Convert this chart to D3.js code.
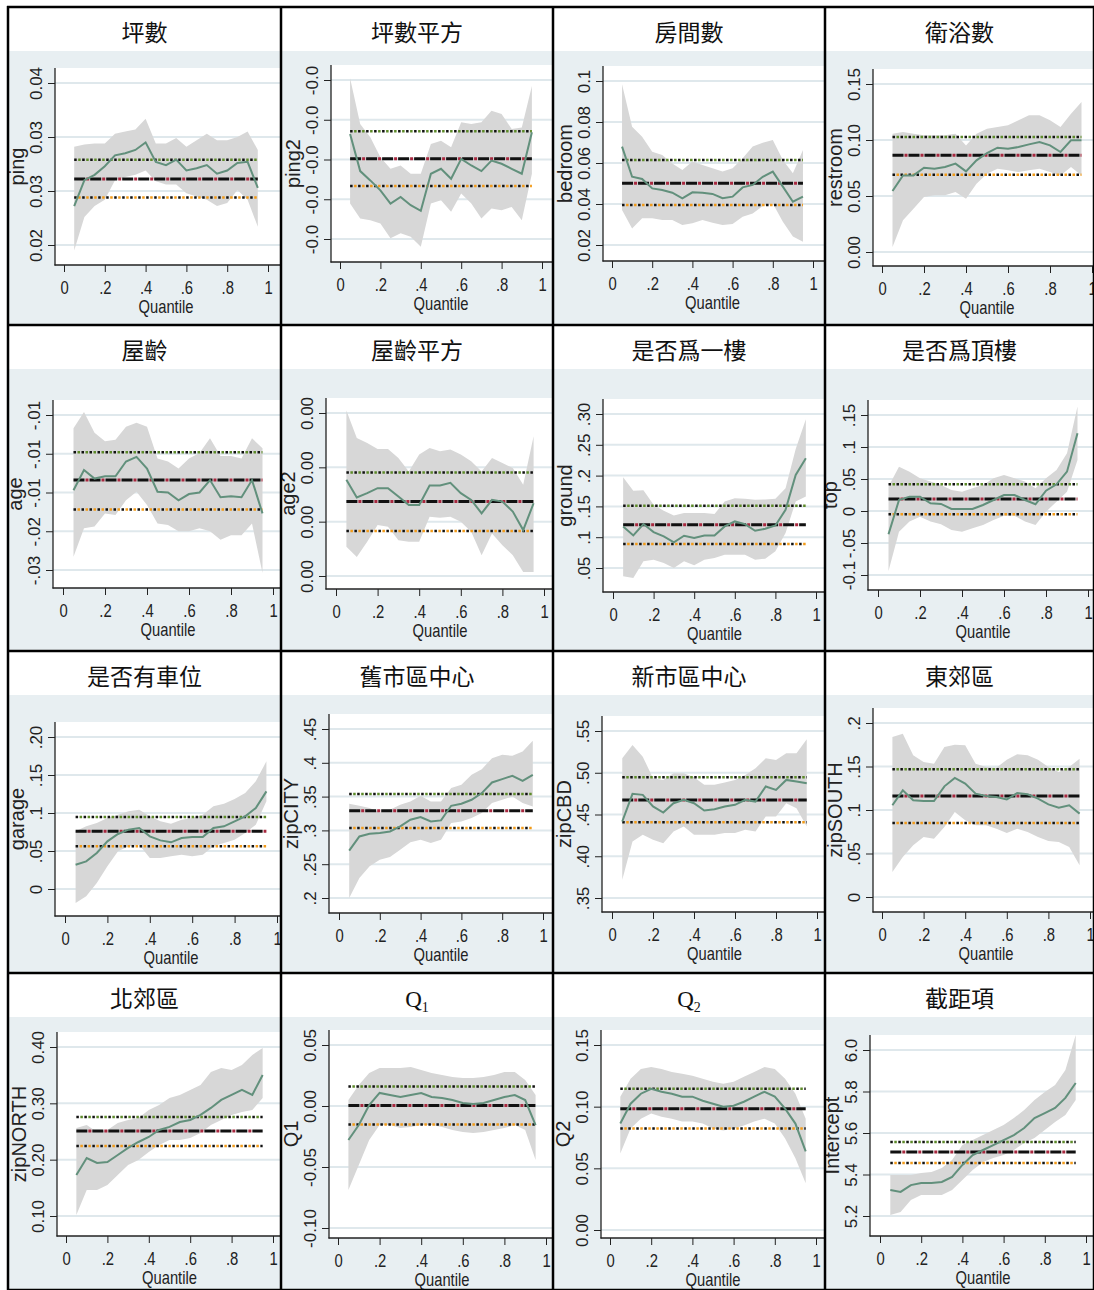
<!DOCTYPE html>
<html>
<head>
<meta charset="utf-8">
<script src="https://cdn.jsdelivr.net/npm/d3@7"></script>
<style>
  body { margin: 0; background: #fff; }
</style>
</head>
<body>
<svg id="grafico" width="1094" height="1290"></svg>
<script>
// quantis estimados (0.05 ... 0.95)
const quantiles = [0.05,0.10,0.15,0.20,0.25,0.30,0.35,0.40,0.45,0.50,0.55,0.60,0.65,0.70,0.75,0.80,0.85,0.90,0.95];
const xTicks = [0, 0.2, 0.4, 0.6, 0.8, 1];
const xTickLabels = ["0", ".2", ".4", ".6", ".8", "1"];

const titles = ["坪數","坪數平方","房間數","衛浴數","屋齡","屋齡平方","是否爲一樓","是否爲頂樓",
                "是否有車位","舊市區中心","新市區中心","東郊區","北郊區","Q1","Q2","截距項"];
const yNames = ["ping","ping2","bedroom","restroom","age","age2","ground","top",
                "garage","zipCITY","zipCBD","zipSOUTH","zipNORTH","Q1","Q2","Intercept"];

// eixo Y: valores e rótulos como aparecem no gráfico
const yTickValues = [
  [0.020,0.025,0.030,0.035],
  [-2.5e-4,-2e-4,-1.5e-4,-1e-4,-0.5e-4],
  [0.02,0.04,0.06,0.08,0.10],
  [0,0.05,0.10,0.15],
  [-0.025,-0.020,-0.015,-0.010,-0.005],
  [0,1e-4,2e-4,3e-4],
  [0.05,0.10,0.15,0.20,0.25,0.30],
  [-0.10,-0.05,0,0.05,0.10,0.15],
  [0,0.05,0.10,0.15,0.20],
  [0.20,0.25,0.30,0.35,0.40,0.45],
  [0.35,0.40,0.45,0.50,0.55],
  [0,0.05,0.10,0.15,0.20],
  [0.10,0.20,0.30,0.40],
  [-0.10,-0.05,0,0.05],
  [0,0.05,0.10,0.15],
  [5.2,5.4,5.6,5.8,6.0]
];
const yTickLabels = [
  ["0.02","0.03","0.03","0.04"],
  ["-0.0","-0.0","-0.0","-0.0","-0.0"],
  ["0.02","0.04","0.06","0.08","0.1"],
  ["0.00","0.05","0.10","0.15"],
  ["-.03","-.02","-.01","-.01","-.01"],
  ["0.00","0.00","0.00","0.00"],
  [".05",".1",".15",".2",".25",".30"],
  ["-0.1","-.05","0",".05",".1",".15"],
  ["0",".05",".1",".15",".20"],
  [".2",".25",".3",".35",".4",".45"],
  [".35",".40",".45",".50",".55"],
  ["0",".05",".1",".15",".2"],
  ["0.10","0.20","0.30","0.40"],
  ["-0.10","-0.05","0.00","0.05"],
  ["0.00","0.05","0.10","0.15"],
  ["5.2","5.4","5.6","5.8","6.0"]
];

// coeficientes por quantil (q), banda de confiança (lo/hi) e OLS [coef, li, ls]
const ping_q  = [.0236,.0260,.0265,.0273,.0283,.0285,.0288,.0295,.0277,.0274,.0279,.0269,.0271,.0274,.0266,.0269,.0276,.0277,.0253];
const ping_lo = [.0195,.0226,.0236,.0242,.0260,.0263,.0265,.0269,.0259,.0256,.0256,.0248,.0245,.0242,.0236,.0239,.0251,.0242,.0217];
const ping_hi = [.0291,.0293,.0294,.0294,.0303,.0305,.0307,.0317,.0294,.0294,.0299,.0291,.0297,.0303,.0297,.0297,.0300,.0305,.0288];
const ping_ols = [.0261,.0244,.0279];

const ping2_q  = [-1.179e-4,-1.646e-4,-1.763e-4,-1.888e-4,-2.054e-4,-1.971e-4,-2.075e-4,-2.146e-4,-1.679e-4,-1.617e-4,-1.742e-4,-1.492e-4,-1.575e-4,-1.646e-4,-1.513e-4,-1.554e-4,-1.617e-4,-1.679e-4,-1.158e-4];
const ping2_lo = [-2.054e-4,-2.242e-4,-2.263e-4,-2.304e-4,-2.492e-4,-2.429e-4,-2.471e-4,-2.596e-4,-2.054e-4,-2.013e-4,-2.158e-4,-1.929e-4,-2.054e-4,-2.242e-4,-2.117e-4,-2.138e-4,-2.096e-4,-2.263e-4,-1.679e-4];
const ping2_hi = [-0.479e-4,-1.054e-4,-1.221e-4,-1.471e-4,-1.617e-4,-1.575e-4,-1.679e-4,-1.679e-4,-1.304e-4,-1.263e-4,-1.346e-4,-1.033e-4,-1.054e-4,-1.033e-4,-0.888e-4,-0.929e-4,-1.117e-4,-1.096e-4,-0.575e-4];
const ping2_ols = [-1.492e-4,-1.833e-4,-1.146e-4];

const bedroom_q  = [.0680,.0533,.0522,.0476,.0468,.0455,.0428,.0457,.0455,.0449,.0428,.0436,.0481,.0493,.0533,.0558,.0485,.0411,.0436];
const bedroom_lo = [.0371,.0281,.0330,.0330,.0322,.0322,.0298,.0306,.0322,.0309,.0298,.0302,.0338,.0354,.0390,.0403,.0314,.0241,.0216];
const bedroom_hi = [.0984,.0777,.0728,.0655,.0639,.0598,.0566,.0607,.0590,.0574,.0558,.0574,.0623,.0680,.0699,.0712,.0615,.0550,.0663];
const bedroom_ols = [.0501,.0395,.0615];

const restroom_q  = [.0545,.0684,.0684,.0753,.0744,.0759,.0789,.0720,.0818,.0884,.0931,.0923,.0937,.0961,.0982,.0952,.0893,.0997,.0997];
const restroom_lo = [.0045,.0283,.0387,.0491,.0506,.0506,.0536,.0476,.0610,.0699,.0744,.0729,.0714,.0729,.0744,.0714,.0684,.0759,.0684];
const restroom_hi = [.1056,.1071,.1056,.1042,.1042,.1042,.1056,.0952,.1056,.1101,.1116,.1131,.1176,.1220,.1220,.1176,.1116,.1235,.1339];
const restroom_ols = [.0863,.0690,.1027];

const age_q  = [-.0147,-.0121,-.0132,-.0129,-.0129,-.0110,-.0104,-.0119,-.0149,-.0150,-.0160,-.0152,-.0150,-.0134,-.0156,-.0155,-.0156,-.0134,-.0177];
const age_lo = [-.0233,-.0196,-.0194,-.0177,-.0179,-.0160,-.0149,-.0166,-.0190,-.0192,-.0200,-.0200,-.0196,-.0200,-.0211,-.0205,-.0205,-.0190,-.0254];
const age_hi = [-.0067,-.0046,-.0073,-.0084,-.0082,-.0065,-.0060,-.0065,-.0106,-.0110,-.0119,-.0106,-.0099,-.0080,-.0103,-.0103,-.0106,-.0080,-.0093];
const age_ols = [-.0134,-.0172,-.0098];

const age2_q  = [1.771e-4,1.444e-4,1.524e-4,1.617e-4,1.617e-4,1.462e-4,1.308e-4,1.308e-4,1.666e-4,1.666e-4,1.715e-4,1.524e-4,1.401e-4,1.154e-4,1.401e-4,1.370e-4,1.185e-4,0.845e-4,1.339e-4];
const age2_lo = [0.537e-4,0.352e-4,0.629e-4,0.938e-4,0.907e-4,0.660e-4,0.629e-4,0.629e-4,1.092e-4,1.074e-4,1.092e-4,1.000e-4,0.814e-4,0.383e-4,0.784e-4,0.568e-4,0.383e-4,0.074e-4,0.074e-4];
const age2_hi = [3.048e-4,2.542e-4,2.449e-4,2.338e-4,2.338e-4,2.172e-4,1.925e-4,2.234e-4,2.357e-4,2.295e-4,2.326e-4,2.234e-4,2.110e-4,1.925e-4,2.172e-4,2.079e-4,1.987e-4,1.678e-4,2.573e-4];
const age2_ols = [1.370e-4,0.827e-4,1.907e-4];

const ground_q  = [.1175,.1029,.1213,.1083,.1013,.0916,.1024,.0986,.1029,.1029,.1175,.1256,.1213,.1105,.1137,.1191,.1445,.2012,.2282];
const ground_lo = [.0365,.0338,.0608,.0635,.0581,.0500,.0608,.0543,.0635,.0662,.0716,.0716,.0716,.0635,.0651,.0770,.1067,.1580,.1661];
const ground_hi = [.1974,.1753,.1764,.1526,.1429,.1353,.1391,.1391,.1391,.1375,.1580,.1634,.1623,.1607,.1612,.1623,.1796,.2433,.2914];
const ground_ols = [.1202,.0889,.1510];

const top_q  = [-.0364,.0172,.0224,.0224,.0120,.0110,.0032,.0032,.0032,.0094,.0172,.0250,.0250,.0172,.0105,.0318,.0417,.0615,.1214];
const top_lo = [-.0938,-.0323,-.0166,-.0088,-.0166,-.0208,-.0297,-.0323,-.0271,-.0218,-.0140,-.0073,-.0073,-.0166,-.0218,-.0010,.0146,.0302,.0797];
const top_hi = [.0381,.0693,.0615,.0511,.0459,.0407,.0329,.0302,.0355,.0407,.0511,.0563,.0511,.0459,.0355,.0511,.0641,.0902,.1631];
const top_ols = [.0188,-.0052,.0417];

const garage_q  = [.0320,.0364,.0474,.0627,.0724,.0781,.0803,.0693,.0640,.0614,.0671,.0684,.0684,.0803,.0825,.0890,.0956,.1066,.1285];
const garage_lo = [-.0184,-.0096,.0079,.0298,.0496,.0561,.0583,.0408,.0408,.0430,.0452,.0430,.0452,.0561,.0605,.0649,.0737,.0846,.1154];
const garage_hi = [.0759,.0825,.0868,.0934,.0978,.1022,.1044,.0956,.0890,.0860,.0912,.0934,.0978,.1088,.1123,.1184,.1263,.1417,.1680];
const garage_ols = [.0759,.0561,.0947];

const zipCITY_q  = [.2700,.2911,.2951,.2961,.2985,.3059,.3158,.3197,.3133,.3148,.3364,.3394,.3453,.3552,.3709,.3759,.3808,.3734,.3823];
const zipCITY_lo = [.2000,.2296,.2468,.2567,.2606,.2714,.2823,.2862,.2813,.2862,.3108,.3133,.3182,.3256,.3404,.3453,.3502,.3404,.3355];
const zipCITY_hi = [.3394,.3364,.3330,.3266,.3305,.3379,.3429,.3512,.3429,.3429,.3626,.3675,.3823,.3906,.4069,.4118,.4103,.4167,.4325];
const zipCITY_ols = [.3291,.3034,.3537];

const zipCBD_q  = [.4416,.4747,.4735,.4596,.4524,.4635,.4675,.4635,.4548,.4564,.4596,.4616,.4675,.4655,.4835,.4795,.4914,.4894,.4874];
const zipCBD_lo = [.3719,.4177,.4257,.4197,.4157,.4297,.4357,.4257,.4257,.4257,.4277,.4277,.4317,.4297,.4476,.4476,.4635,.4576,.4357];
const zipCBD_hi = [.5173,.5333,.5193,.4934,.4914,.4994,.4994,.4946,.4855,.4855,.4882,.4914,.4974,.5054,.5173,.5153,.5233,.5233,.5400];
const zipCBD_ols = [.4675,.4408,.4946];

const zipSOUTH_q  = [.1054,.1226,.1111,.1103,.1103,.1272,.1368,.1303,.1188,.1161,.1149,.1122,.1195,.1180,.1130,.1065,.1027,.1054,.0958];
const zipSOUTH_lo = [.0287,.0460,.0594,.0690,.0670,.0805,.0977,.0881,.0824,.0824,.0785,.0736,.0785,.0747,.0690,.0644,.0632,.0575,.0364];
const zipSOUTH_hi = [.1839,.1877,.1628,.1552,.1532,.1724,.1751,.1743,.1532,.1494,.1486,.1578,.1640,.1628,.1578,.1494,.1437,.1494,.1590];
const zipSOUTH_ols = [.1161,.0851,.1467];

const zipNORTH_q  = [.1728,.2030,.1941,.1959,.2083,.2208,.2314,.2403,.2527,.2581,.2669,.2705,.2794,.2918,.3060,.3149,.3238,.3150,.3504];
const zipNORTH_lo = [.1018,.1462,.1462,.1551,.1728,.1906,.1995,.2137,.2261,.2350,.2350,.2385,.2474,.2616,.2705,.2794,.2847,.2883,.3096];
const zipNORTH_hi = [.2563,.2616,.2492,.2527,.2652,.2705,.2740,.2883,.2971,.3096,.3149,.3238,.3327,.3557,.3628,.3593,.3682,.3859,.3984];
const zipNORTH_ols = [.2510,.2243,.2758];

const q1_q  = [-.0279,-.0156,.0008,.0107,.0090,.0074,.0090,.0107,.0074,.0066,.0049,.0025,.0016,.0025,.0049,.0074,.0090,.0049,-.0156];
const q1_lo = [-.0689,-.0484,-.0279,-.0156,-.0156,-.0180,-.0172,-.0156,-.0156,-.0172,-.0197,-.0213,-.0221,-.0213,-.0197,-.0180,-.0156,-.0197,-.0443];
const q1_hi = [.0049,.0172,.0271,.0312,.0312,.0312,.0320,.0295,.0271,.0254,.0238,.0230,.0230,.0238,.0254,.0279,.0279,.0213,.0090];
const q1_ols = [.0005,-.0152,.0160];

const q2_q  = [.0863,.1024,.1105,.1145,.1121,.1105,.1081,.1081,.1048,.1024,.1000,.1008,.1040,.1081,.1121,.1081,.0984,.0863,.0637];
const q2_lo = [.0621,.0823,.0903,.0944,.0919,.0903,.0879,.0879,.0863,.0823,.0807,.0823,.0847,.0879,.0903,.0863,.0742,.0581,.0379];
const q2_hi = [.1081,.1226,.1306,.1322,.1306,.1282,.1266,.1250,.1226,.1202,.1185,.1202,.1242,.1282,.1322,.1306,.1226,.1105,.0903];
const q2_ols = [.0984,.0823,.1145];

const cons_q  = [5.325,5.316,5.349,5.359,5.359,5.364,5.388,5.446,5.494,5.518,5.542,5.566,5.590,5.624,5.672,5.696,5.721,5.769,5.841];
const cons_lo = [5.205,5.219,5.277,5.301,5.301,5.301,5.325,5.374,5.422,5.460,5.480,5.494,5.518,5.552,5.576,5.615,5.653,5.687,5.759];
const cons_hi = [5.398,5.398,5.398,5.407,5.412,5.431,5.470,5.542,5.566,5.590,5.615,5.639,5.672,5.711,5.759,5.798,5.831,5.904,6.072];
const cons_ols = [5.508,5.455,5.557];

const series = [
  [ping_q, ping_lo, ping_hi, ping_ols],
  [ping2_q, ping2_lo, ping2_hi, ping2_ols],
  [bedroom_q, bedroom_lo, bedroom_hi, bedroom_ols],
  [restroom_q, restroom_lo, restroom_hi, restroom_ols],
  [age_q, age_lo, age_hi, age_ols],
  [age2_q, age2_lo, age2_hi, age2_ols],
  [ground_q, ground_lo, ground_hi, ground_ols],
  [top_q, top_lo, top_hi, top_ols],
  [garage_q, garage_lo, garage_hi, garage_ols],
  [zipCITY_q, zipCITY_lo, zipCITY_hi, zipCITY_ols],
  [zipCBD_q, zipCBD_lo, zipCBD_hi, zipCBD_ols],
  [zipSOUTH_q, zipSOUTH_lo, zipSOUTH_hi, zipSOUTH_ols],
  [zipNORTH_q, zipNORTH_lo, zipNORTH_hi, zipNORTH_ols],
  [q1_q, q1_lo, q1_hi, q1_ols],
  [q2_q, q2_lo, q2_hi, q2_ols],
  [cons_q, cons_lo, cons_hi, cons_ols]
];

// posição de cada quadro: eixoY x, x(0), x(1), y(primeiro tick), y(último tick), eixoX y
const layout = [
  [55, 64, 268, 245, 83, 265],   [331, 340, 542, 239, 80, 262],   [603, 612, 813, 245, 81, 261],   [873, 882, 1092, 252, 84, 266],
  [53, 63, 273, 570, 415, 588],  [326, 336, 544, 576, 413, 589],  [603, 613, 816, 568, 414, 592],  [868, 878, 1088, 575, 415, 590],
  [55, 65, 277, 889, 737, 916],  [329, 339, 543, 898, 729, 913],  [602, 612, 817, 898, 731, 912],  [873, 882, 1090, 897, 723, 912],
  [57, 66, 273, 1216, 1047, 1236],[329, 338, 546, 1228, 1045, 1238],[601, 610, 816, 1230, 1045, 1238],[870, 880, 1086, 1216, 1050, 1236]
];
const colEdges = [8, 281, 553, 825, 1094];
const rowEdges = [7, 325, 651, 973, 1290];

const cores = {
  fundo: "#e8eff2", grade: "#dfe8ec", banda: "#d7d7d7", linha: "#62907c",
  ols: "#a8283f", superior: "#5d8a28", inferior: "#f29a17"
};
const fonteTexto = "'Liberation Sans', Arial, sans-serif";
const estreito = 0.78; // números do eixo X são estreitos no original

const svg = d3.select("#grafico");
const defs = svg.append("defs");

titles.forEach(function(titulo, i) {
  const c = i % 4, r = Math.floor(i / 4);
  const cx = colEdges[c], cy = rowEdges[r];
  const cw = colEdges[c + 1] - cx, ch = rowEdges[r + 1] - cy;
  const [axX, x0, x1, yBot, yTop, axY] = layout[i];
  const [est, lo, hi, ols] = series[i];
  const ticks = yTickValues[i], labels = yTickLabels[i];
  const plotTop = yTop - 15;

  defs.append("clipPath").attr("id", "clip" + i)
    .append("rect").attr("x", cx).attr("y", cy).attr("width", cw).attr("height", ch);

  const g = svg.append("g").attr("clip-path", "url(#clip" + i + ")");

  g.append("rect").attr("x", cx).attr("y", cy).attr("width", cw).attr("height", ch).attr("fill", "#fff");
  g.append("rect").attr("x", cx).attr("y", cy + 44).attr("width", cw).attr("height", ch - 44).attr("fill", cores.fundo);
  g.append("rect").attr("x", axX).attr("y", plotTop).attr("width", cx + cw - axX).attr("height", axY - plotTop).attr("fill", "#fff");

  const x = d3.scaleLinear().domain([0, 1]).range([x0, x1]);
  const y = d3.scaleLinear().domain([ticks[0], ticks[ticks.length - 1]]).range([yBot, yTop]);

  // linhas de grade
  g.selectAll(".grade").data(ticks).enter().append("line")
    .attr("x1", axX).attr("x2", cx + cw)
    .attr("y1", d => y(d)).attr("y2", d => y(d))
    .attr("stroke", cores.grade).attr("stroke-width", 2);

  // banda de confiança dos quantis
  const area = d3.area()
    .x((d, k) => x(quantiles[k]))
    .y0((d, k) => y(lo[k]))
    .y1((d, k) => y(hi[k]));
  g.append("path").datum(est).attr("d", area).attr("fill", cores.banda);

  // OLS: coeficiente e intervalo
  const xa = x(quantiles[0]), xb = x(quantiles[quantiles.length - 1]);
  const hline = function(v, cor, dash, off, w) {
    g.append("line").attr("x1", xa).attr("x2", xb).attr("y1", y(v)).attr("y2", y(v))
      .attr("stroke", cor).attr("stroke-width", w)
      .attr("stroke-dasharray", dash).attr("stroke-dashoffset", off);
  };
  hline(ols[2], cores.superior, "2.5,5.5", -4, 2.5);
  hline(ols[2], "#111", "2.5,5.5", 0, 2.5);
  hline(ols[1], cores.inferior, "2.5,5.5", -4, 2.5);
  hline(ols[1], "#111", "2.5,5.5", 0, 2.5);
  hline(ols[0], cores.ols, "3,13", -12, 3);
  hline(ols[0], "#111", "11,5", 0, 3);

  // linha dos coeficientes por quantil
  const linha = d3.line()
    .x((d, k) => x(quantiles[k]))
    .y(d => y(d));
  g.append("path").datum(est).attr("d", linha)
    .attr("fill", "none").attr("stroke", cores.linha).attr("stroke-width", 2);

  // eixo Y
  const yAxis = d3.axisLeft(y).tickValues(ticks).tickFormat((d, k) => labels[k]).tickSize(7).tickSizeOuter(0);
  const gy = g.append("g").attr("transform", "translate(" + axX + ",0)").call(yAxis);
  gy.select(".domain").remove();
  gy.selectAll(".tick line").attr("stroke", "#222");
  gy.selectAll(".tick text")
    .attr("x", null).attr("dy", null)
    .attr("transform", "translate(-13,0) rotate(-90)")
    .attr("text-anchor", "middle")
    .style("font-family", fonteTexto).style("font-size", "17px").attr("fill", "#222");
  g.append("line").attr("x1", axX).attr("x2", axX).attr("y1", plotTop).attr("y2", axY + 0.5)
    .attr("stroke", "#222").attr("stroke-width", 1.3);

  // eixo X
  const xAxis = d3.axisBottom(x).tickValues(xTicks).tickFormat((d, k) => xTickLabels[k]).tickSize(7).tickSizeOuter(0);
  const gx = g.append("g").attr("transform", "translate(0," + axY + ")").call(xAxis);
  gx.select(".domain").remove();
  gx.selectAll(".tick line").attr("stroke", "#222");
  gx.selectAll(".tick text").attr("y", null).attr("dy", null)
    .attr("transform", "translate(0,29) scale(" + estreito + ",1)")
    .style("font-family", fonteTexto).style("font-size", "19px").attr("fill", "#222");
  g.append("line").attr("x1", axX - 0.5).attr("x2", cx + cw).attr("y1", axY).attr("y2", axY)
    .attr("stroke", "#222").attr("stroke-width", 1.3);

  g.append("text")
    .attr("transform", "translate(" + ((x0 + x1) / 2) + "," + (axY + 48) + ") scale(0.82,1)")
    .attr("text-anchor", "middle")
    .style("font-family", fonteTexto).style("font-size", "18px").attr("fill", "#222")
    .text("Quantile");

  // título do eixo Y
  g.append("text")
    .attr("transform", "translate(" + (axX - 31) + "," + ((plotTop + axY) / 2) + ") rotate(-90)")
    .attr("text-anchor", "middle")
    .style("font-family", fonteTexto).style("font-size", "20px").attr("fill", "#222")
    .text(yNames[i]);

  // título do quadro
  const t = g.append("text").attr("x", cx + cw / 2).attr("y", cy + 34)
    .attr("text-anchor", "middle").attr("fill", "#111");
  if (/^Q\d$/.test(titulo)) {
    t.style("font-family", "'Liberation Serif', serif").style("font-size", "23px");
    t.append("tspan").text(titulo[0]);
    t.append("tspan").attr("dy", 5).style("font-size", "14px").text(titulo[1]);
  } else {
    t.style("font-family", "'Noto Sans CJK TC', 'Noto Sans CJK SC', sans-serif").style("font-size", "23px").text(titulo);
  }
});

// bordas da tabela
svg.selectAll(".vborda").data(colEdges).enter().append("line")
  .attr("x1", d => d).attr("x2", d => d).attr("y1", rowEdges[0] - 1).attr("y2", 1290)
  .attr("stroke", "#000").attr("stroke-width", 2.5);
svg.selectAll(".hborda").data(rowEdges).enter().append("line")
  .attr("x1", colEdges[0] - 1).attr("x2", 1094).attr("y1", d => d).attr("y2", d => d)
  .attr("stroke", "#000").attr("stroke-width", 2.5);
</script>
</body>
</html>
